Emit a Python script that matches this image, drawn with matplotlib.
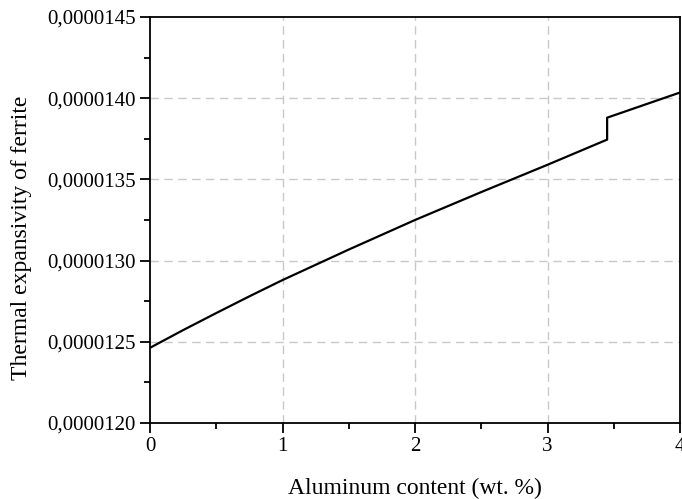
import numpy as np
import matplotlib
matplotlib.use('Agg')
import matplotlib.pyplot as plt
from matplotlib.ticker import FuncFormatter, MultipleLocator

# (x in wt.% Al, y thermal expansivity)
al_content = [0.0, 0.25, 0.5, 0.75, 1.0, 1.5, 2.0, 2.5, 3.0, 3.45, 3.45, 4.0]
expansivity = [1.2463e-5, 1.2572e-5, 1.2677e-5, 1.2780e-5, 1.2880e-5, 1.3068e-5,
               1.3250e-5, 1.3422e-5, 1.3590e-5, 1.3745e-5, 1.3880e-5, 1.4035e-5]

plt.rcParams['font.family'] = ['Liberation Serif', 'DejaVu Serif']

fig = plt.figure(figsize=(6.82, 4.99), dpi=100)
ax = fig.add_axes([150 / 682, 76 / 499, 530 / 682, 406 / 499])

ax.plot(al_content, expansivity, color='black', lw=1.6)

ax.set_xlim(0, 4)
ax.set_ylim(1.20e-5, 1.45e-5)
ax.xaxis.set_major_locator(MultipleLocator(1))
ax.xaxis.set_minor_locator(MultipleLocator(0.5))
ax.yaxis.set_major_locator(MultipleLocator(0.5e-6))
ax.yaxis.set_minor_locator(MultipleLocator(0.25e-6))
ax.yaxis.set_major_formatter(FuncFormatter(lambda v, p: ('%.7f' % v).replace('.', ',')))
ax.xaxis.set_major_formatter(FuncFormatter(lambda v, p: '%d' % round(v)))

ax.tick_params(which='major', direction='out', length=7, width=1.3, labelsize=15, pad=3)
ax.tick_params(which='minor', direction='out', length=4, width=1.3)
for s in ax.spines.values():
    s.set_linewidth(1.3)

# dashed grid on the inner major ticks only
for xv in [1, 2, 3]:
    ax.axvline(xv, color='#c8c8c8', lw=1, ls=(0, (6, 4)), zorder=0)
for yv in [1.25e-5, 1.30e-5, 1.35e-5, 1.40e-5]:
    ax.axhline(yv, color='#c8c8c8', lw=1, ls=(0, (6, 4)), zorder=0)

ax.set_xlabel('Aluminum content (wt. %)', fontsize=17, labelpad=16)
ax.set_ylabel('Thermal expansivity of ferrite', fontsize=17)
ax.yaxis.set_label_coords(-0.222, 0.456)

fig.savefig('out.png', dpi=100)
